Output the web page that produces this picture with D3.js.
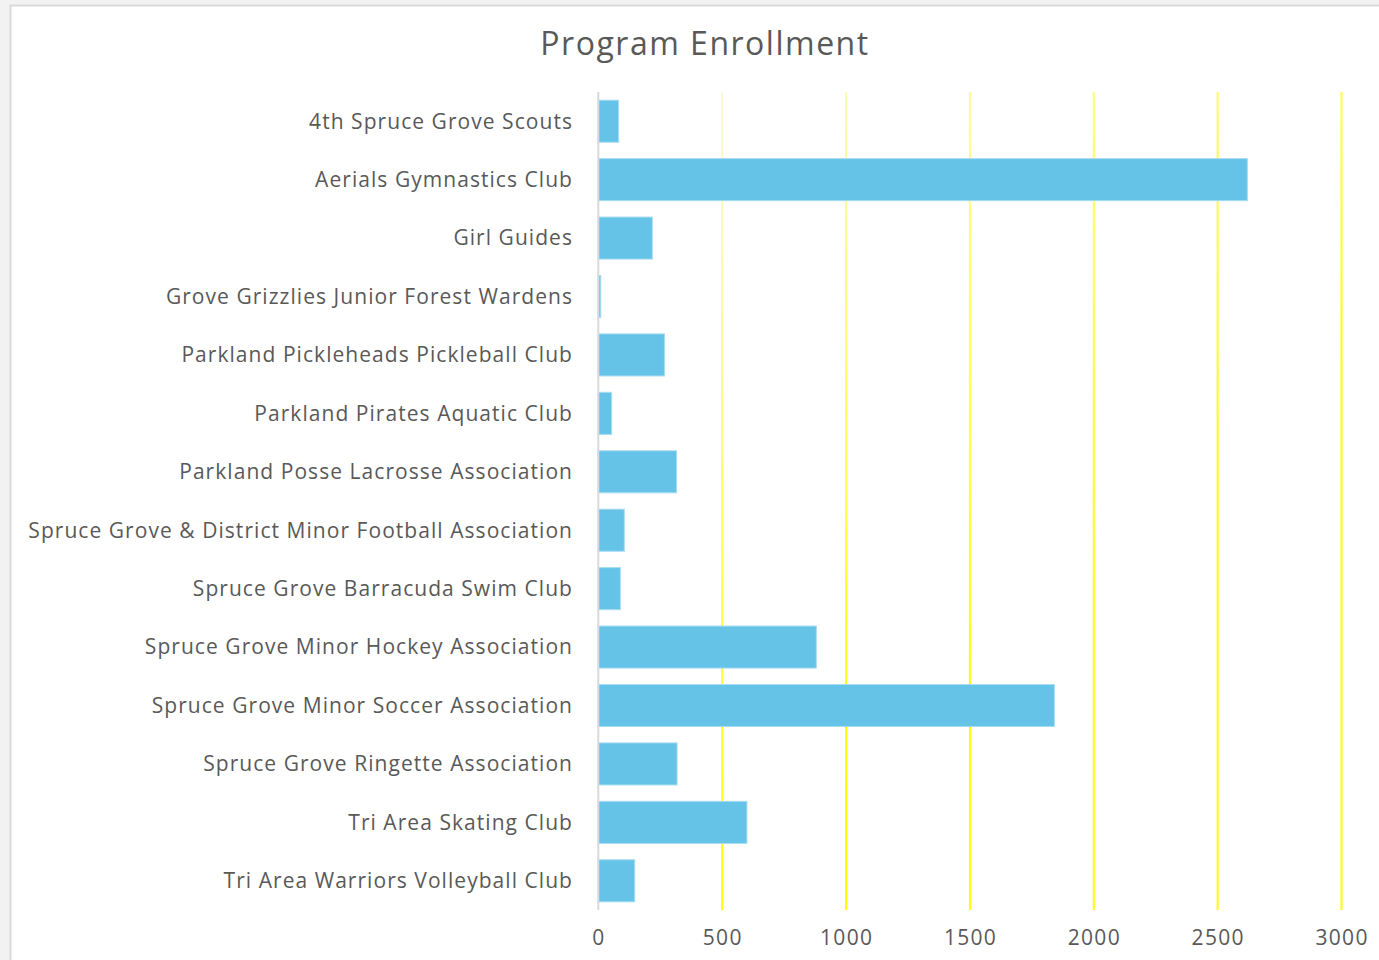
<!DOCTYPE html>
<html>
<head>
<meta charset="utf-8">
<script src="https://cdn.jsdelivr.net/npm/d3@7"></script>
<style>
  html, body { margin: 0; padding: 0; background: #f2f2f2; }
  svg { display: block; }
</style>
</head>
<body>
<svg id="chart" width="1379" height="960"></svg>
<script>
const categories = [
  "4th Spruce Grove Scouts",
  "Aerials Gymnastics Club",
  "Girl Guides",
  "Grove Grizzlies Junior Forest Wardens",
  "Parkland Pickleheads Pickleball Club",
  "Parkland Pirates Aquatic Club",
  "Parkland Posse Lacrosse Association",
  "Spruce Grove & District Minor Football Association",
  "Spruce Grove Barracuda Swim Club",
  "Spruce Grove Minor Hockey Association",
  "Spruce Grove Minor Soccer Association",
  "Spruce Grove Ringette Association",
  "Tri Area Skating Club",
  "Tri Area Warriors Volleyball Club"
];
const enrollment = [82, 2620, 218, 10, 267, 54, 316, 105, 89, 880, 1841, 318, 600, 147];
const xTicks = [0, 500, 1000, 1500, 2000, 2500, 3000];
const title = "Program Enrollment";

const svg = d3.select("#chart");
const font = "'Open Sans', 'Noto Sans', sans-serif";

// chart area background & border
svg.append("rect")
  .attr("x", 10.5).attr("y", 5.5)
  .attr("width", 1379).attr("height", 970)
  .attr("fill", "#ffffff")
  .attr("stroke", "#d9d9d9").attr("stroke-width", 2);

const margin = { left: 598.3, right: 1341.5, top: 92, bottom: 910 };

const x = d3.scaleLinear().domain([0, 3000]).range([margin.left, margin.right]);
const y = d3.scaleBand().domain(categories).range([margin.top, margin.bottom]).paddingInner(0.28).paddingOuter(0.14);

// gradient for gridlines
const defs = svg.append("defs");
const grad = defs.append("linearGradient")
  .attr("id", "gridGrad")
  .attr("gradientUnits", "userSpaceOnUse")
  .attr("x1", 598).attr("y1", 92)
  .attr("x2", 1198).attr("y2", 792);
grad.append("stop").attr("offset", 0).attr("stop-color", "#f6f6f6");
grad.append("stop").attr("offset", 0.2).attr("stop-color", "#fafab0");
grad.append("stop").attr("offset", 0.45).attr("stop-color", "#ffff55");
grad.append("stop").attr("offset", 0.75).attr("stop-color", "#ffff00");

// gridlines
svg.append("g")
  .selectAll("rect")
  .data(xTicks.filter(d => d > 0))
  .join("rect")
  .attr("x", d => x(d) - 1)
  .attr("y", margin.top)
  .attr("width", 2)
  .attr("height", margin.bottom - margin.top)
  .attr("fill", "url(#gridGrad)");

// bars
svg.append("g")
  .selectAll("rect")
  .data(categories)
  .join("rect")
  .attr("x", x(0))
  .attr("y", d => y(d))
  .attr("width", (d, i) => x(enrollment[i]) - x(0))
  .attr("height", y.bandwidth())
  .attr("fill", "#65c3e8")
  .attr("stroke", "#a8dcf2")
  .attr("stroke-width", 1);

// zero axis line
svg.append("line")
  .attr("x1", x(0)).attr("x2", x(0))
  .attr("y1", margin.top).attr("y2", margin.bottom)
  .attr("stroke", "#d9d9d9").attr("stroke-width", 2);

// y labels
svg.append("g")
  .selectAll("text")
  .data(categories)
  .join("text")
  .attr("x", 573)
  .attr("y", d => y(d) + y.bandwidth() / 2)
  .attr("dy", "0.35em")
  .attr("text-anchor", "end")
  .attr("font-family", font)
  .attr("font-size", 21)
  .attr("letter-spacing", 1.05)
  .attr("fill", "#595959")
  .text(d => d);

// x tick labels
svg.append("g")
  .selectAll("text")
  .data(xTicks)
  .join("text")
  .attr("x", d => x(d) + 0.6)
  .attr("y", 938)
  .attr("dy", "0.35em")
  .attr("text-anchor", "middle")
  .attr("font-family", font)
  .attr("font-size", 21)
  .attr("letter-spacing", 1.3)
  .attr("fill", "#595959")
  .text(d => d);

// title
svg.append("text")
  .attr("x", 705)
  .attr("y", 44)
  .attr("dy", "0.35em")
  .attr("text-anchor", "middle")
  .attr("font-family", font)
  .attr("font-size", 32)
  .attr("letter-spacing", 1.5)
  .attr("fill", "#595959")
  .text(title);
</script>
</body>
</html>
